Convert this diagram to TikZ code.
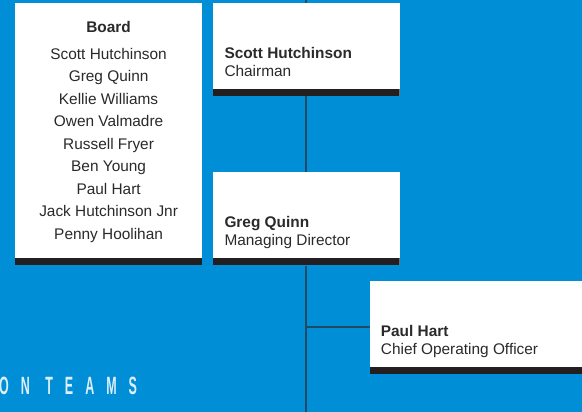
\documentclass[tikz,border=0pt]{standalone}
\usepackage{fontspec}
\setmainfont{Liberation Sans}
\newfontfamily\teamfont[LetterSpace=96]{Liberation Sans}
\usetikzlibrary{positioning}
\definecolor{chartblue}{HTML}{008ED6}
\definecolor{barblack}{HTML}{231F20}
\definecolor{linkline}{HTML}{1E4A63}
\definecolor{inkgrey}{HTML}{2B2A29}
\definecolor{teamtint}{HTML}{DCEFFA}
\newcommand{\cardfont}{\fontsize{15.4}{18}\selectfont}

\tikzset{
  card/.style={fill=white, inner sep=0pt, minimum width=187pt, minimum height=93pt,
    path picture={\fill[barblack] (path picture bounding box.south west) rectangle ([yshift=7pt]path picture bounding box.south east);}},
  lead/.style={font=\cardfont\bfseries, text=inkgrey, inner sep=0pt, anchor=base west},
  post/.style={font=\cardfont, text=inkgrey, inner sep=0pt, anchor=base west},
  member/.style={font=\cardfont, text=inkgrey, inner sep=0pt, anchor=base},
  link/.style={draw=linkline, line width=1.8pt}
}

\begin{document}
\begin{tikzpicture}[x=1pt, y=1pt, node distance=76pt]
  \fill[chartblue] (0,0) rectangle (582,412);
  \useasboundingbox (0,0) rectangle (582,412);

  \node[card] (chair) at (306,362.5) {};
  \node[card, below=of chair] (md) {};
  \node[card, minimum height=262pt, left=10pt of chair.north west, anchor=north east] (board) {};
  \node[card, minimum width=240pt, below=15pt of md.south east, anchor=north west, xshift=-30pt] (coo) {};

  \coordinate (top) at (chair.north |- 0,412);
  \coordinate (foot) at (md.south |- 0,0);
  \draw[link] (top) -- (chair.north) (chair.south) -- (md.north) (md.south) -- (foot);
  \draw[link] (coo.west) -- (coo.west -| md.south);

  \node[lead] (chairname) at ([shift={(12pt,-56pt)}]chair.north west) {Scott Hutchinson};
  \node[post] (chairpost) at ([yshift=-18pt]chairname.base west) {Chairman};
  \node[lead] (mdname) at ([shift={(12pt,-55.5pt)}]md.north west) {Greg Quinn};
  \node[post] (mdpost) at ([yshift=-18pt]mdname.base west) {Managing Director};
  \node[lead] (cooname) at ([shift={(11pt,-56pt)}]coo.north west) {Paul Hart};
  \node[post] (coopost) at ([yshift=-18pt]cooname.base west) {Chief Operating Officer};

  \node[member, font=\cardfont\bfseries] (boardtitle) at ([yshift=-29.7pt]board.north) {Board};
  \foreach \person [count=\i] in {Scott Hutchinson, Greg Quinn, Kellie Williams, Owen Valmadre,
      Russell Fryer, Ben Young, Paul Hart, Jack Hutchinson Jnr, Penny Hoolihan}
    \node[member] (member\i) at ([yshift={-4.1pt-22.5pt*\i}]boardtitle.base) {\person};

  \node[text=teamtint, font=\teamfont\bfseries\fontsize{25}{25}\selectfont, inner sep=0pt,
    anchor=base west, xscale=0.5] (teams) at (-1,17) {ON TEAMS};
\end{tikzpicture}
\end{document}
